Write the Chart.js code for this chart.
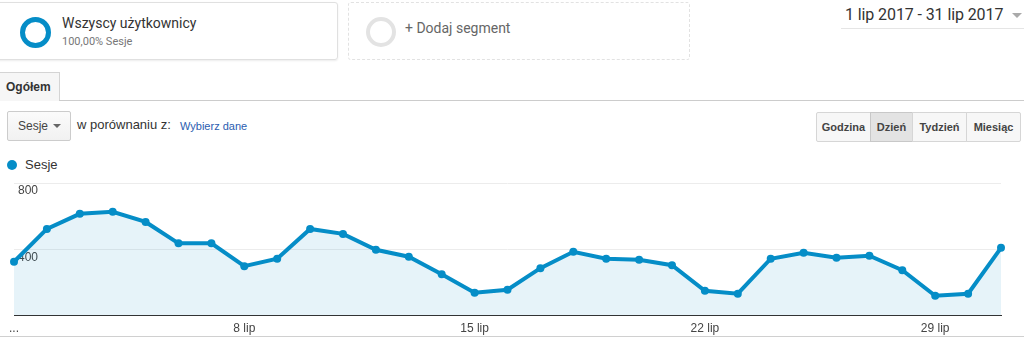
<!DOCTYPE html>
<html>
<head>
<meta charset="utf-8">
<script src="https://cdn.jsdelivr.net/npm/chart.js@4/dist/chart.umd.min.js"></script>
<style>
  body { margin: 0; width: 1024px; height: 339px; overflow: hidden; background: #fff; font-family: Roboto, Arial, sans-serif; position: relative; }
  .abs { position: absolute; }
  .seg { top: 2px; height: 58px; border-radius: 3px; box-sizing: border-box; }
  .seg1 { left: -4px; width: 342px; border: 1px solid #e0e0e0; box-shadow: 0 1px 2px rgba(0,0,0,0.08); }
  .seg2 { left: 348px; width: 342px; border: 1px dashed #e2e2e2; }
  .ring { border-radius: 50%; box-sizing: border-box; }
  .btn { top: 112px; height: 30px; box-sizing: border-box; border: 1px solid #d6d6d6; background: #f7f7f7; font: bold 11px Arial, sans-serif; color: #444; text-align: center; line-height: 28px; }
  #chartBox { left: 0; top: 170px; }
</style>
</head>
<body>
<!-- segment boxes -->
<div class="abs seg seg1"></div>
<div class="abs ring" style="left:20px;top:17px;width:31px;height:31px;border:5px solid #058dc7;"></div>
<div class="abs" style="left:62px;top:15px;font-size:14px;color:#333;">Wszyscy użytkownicy</div>
<div class="abs" style="left:62px;top:35px;font-size:11px;color:#777;">100,00% Sesje</div>

<div class="abs seg seg2"></div>
<div class="abs ring" style="left:366px;top:17px;width:30px;height:30px;border:4px solid #e3e3e3;"></div>
<div class="abs" style="left:405px;top:20px;font-size:14px;color:#666;">+ Dodaj segment</div>

<!-- date range -->
<div class="abs" style="left:845px;top:5px;font-size:16px;color:#333;letter-spacing:-0.1px;">1 lip 2017 - 31 lip 2017</div>
<div class="abs" style="left:1012px;top:13px;width:0;height:0;border-left:5px solid transparent;border-right:5px solid transparent;border-top:5px solid #aaa;"></div>
<div class="abs" style="left:841px;top:28px;width:183px;height:1px;background:#e5e5e5;"></div>

<!-- tab -->
<div class="abs" style="left:0;top:72px;width:60px;height:29px;box-sizing:border-box;border:1px solid #d4d4d4;border-bottom:none;border-left:none;background:#f6f6f6;font:bold 12px Arial,sans-serif;color:#333;line-height:29px;padding-left:6px;">Ogółem</div>
<div class="abs" style="left:59px;top:100px;width:965px;height:1px;background:#ccc;"></div>

<!-- metric selector -->
<div class="abs" style="left:7px;top:111px;width:64px;height:30px;box-sizing:border-box;border:1px solid #ccc;border-radius:2px;background:linear-gradient(#fbfbfb,#f1f1f1);font:12px Arial,sans-serif;color:#444;line-height:28px;padding-left:10px;">Sesje</div>
<div class="abs" style="left:53px;top:124px;width:0;height:0;border-left:4px solid transparent;border-right:4px solid transparent;border-top:4px solid #666;"></div>
<div class="abs" style="left:77px;top:117px;font:13px Arial,sans-serif;color:#333;">w porównaniu z:</div>
<div class="abs" style="left:180px;top:120px;font:11px Arial,sans-serif;color:#2a5db0;">Wybierz dane</div>

<!-- interval buttons -->
<div class="abs btn" style="left:816px;width:55px;border-radius:2px 0 0 2px;">Godzina</div>
<div class="abs btn" style="left:870px;width:43px;background:#e3e3e3;border-color:#c8c8c8;">Dzień</div>
<div class="abs btn" style="left:912px;width:55px;">Tydzień</div>
<div class="abs btn" style="left:966px;width:55px;border-radius:0 2px 2px 0;">Miesiąc</div>

<!-- legend -->
<div class="abs" style="left:7px;top:160px;width:10px;height:10px;border-radius:50%;background:#058dc7;"></div>
<div class="abs" style="left:25px;top:157px;font:13px Arial,sans-serif;color:#333;">Sesje</div>

<div id="chartBox" class="abs"><canvas id="chart" width="1024" height="172"></canvas></div>
<div class="abs" style="left:0;top:336px;width:1024px;height:1px;background:#d0d0d0;"></div>

<script>
const days = ['1 lip', '2 lip', '3 lip', '4 lip', '5 lip', '6 lip', '7 lip', '8 lip', '9 lip', '10 lip',
  '11 lip', '12 lip', '13 lip', '14 lip', '15 lip', '16 lip', '17 lip', '18 lip', '19 lip', '20 lip',
  '21 lip', '22 lip', '23 lip', '24 lip', '25 lip', '26 lip', '27 lip', '28 lip', '29 lip', '30 lip', '31 lip'];
const sessions = [325, 523, 614, 626, 565, 436, 436, 298, 343, 523, 493, 397, 355, 250, 138, 156,
  286, 385, 343, 337, 304, 150, 132, 343, 379, 349, 361, 274, 120, 132, 409];
const shownTicks = ['...', '8 lip', '15 lip', '22 lip', '29 lip'];
const yTicks = [400, 800];

const ctx = document.getElementById('chart');
const sessionsChart = new Chart(ctx, {
  type: 'line',
  data: {
    labels: days,
    datasets: [{
      label: 'Sesje',
      data: sessions,
      borderColor: '#058dc7',
      backgroundColor: 'rgba(5, 141, 199, 0.1)',
      borderWidth: 4,
      fill: 'origin',
      tension: 0,
      pointRadius: 4,
      pointBorderWidth: 0,
      pointBackgroundColor: '#058dc7',
      clip: false
    }]
  },
  options: {
    responsive: false,
    animation: false,
    layout: { padding: { left: 6, right: 23, top: 13, bottom: 0 } },
    plugins: { legend: { display: false }, tooltip: { enabled: false } },
    scales: {
      x: {
        z: 1,
        offset: false,
        grid: { display: false, drawTicks: false },
        border: { display: true, color: '#333', width: 1 },
        ticks: {
          autoSkip: false,
          maxRotation: 0,
          padding: 6,
          color: '#444',
          font: { family: 'Arial', size: 12 },
          callback: (val, i) => (i % 7 === 0 ? shownTicks[i / 7] : null)
        }
      },
      y: {
        min: 0,
        max: 800,
        grid: { color: '#ececec', drawTicks: false },
        border: { display: false },
        afterBuildTicks: (axis) => { axis.ticks = yTicks.map(v => ({ value: v })); },
        ticks: {
          autoSkip: false,
          mirror: true,
          padding: 4,
          labelOffset: 8,
          color: '#444',
          font: { family: 'Arial', size: 12 }
        }
      }
    }
  }
});
</script>
</body>
</html>
